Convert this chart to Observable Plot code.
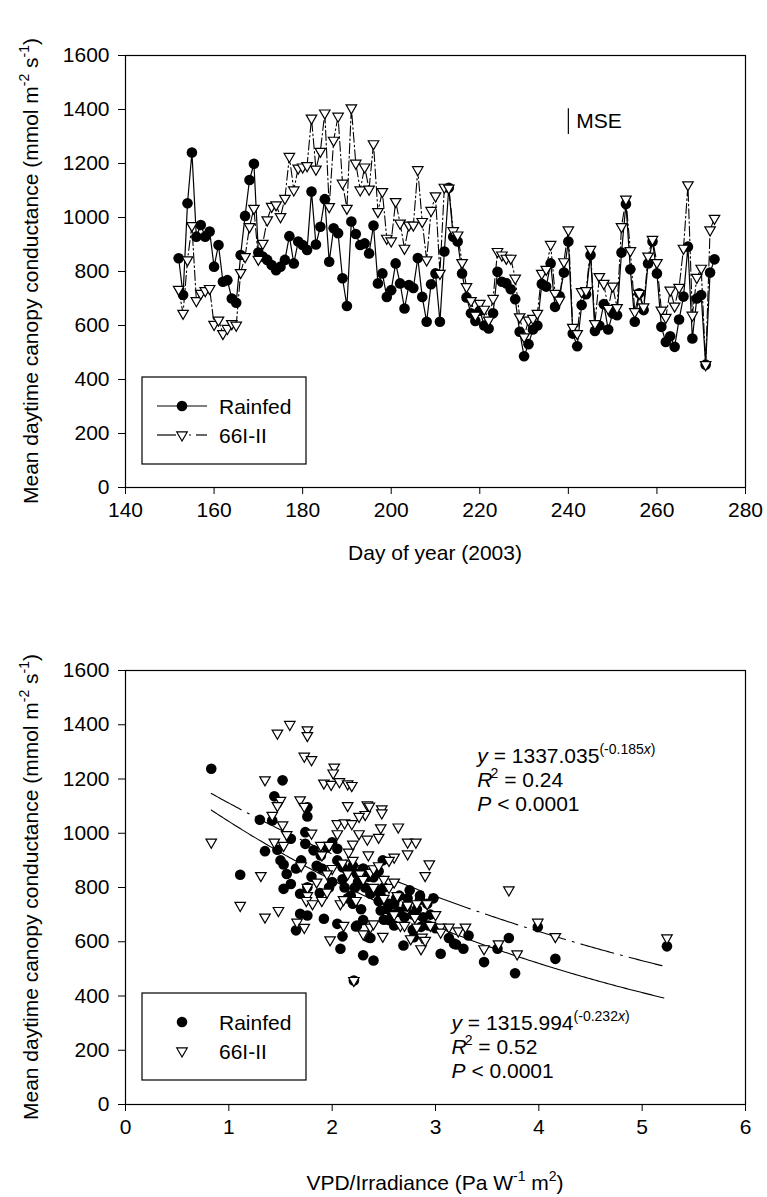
<!DOCTYPE html>
<html><head><meta charset="utf-8">
<script src="https://cdn.jsdelivr.net/npm/d3@7"></script>
<script src="https://cdn.jsdelivr.net/npm/@observablehq/plot@0.6"></script>
<style>
body{margin:0;background:#fff;width:767px;height:1197px;overflow:hidden}
svg{display:block}
</style>
</head><body><div id="topChart"></div><div id="bottomChart"></div>
<script>
const FONT = "'Liberation Sans', Arial, Helvetica, sans-serif";

// ---------- Top panel data (daily means, day of year 152..273) ----------
const firstDay = 152;
const rainfedGc = [
 849,713,1053,1241,929,972,929,948,818,898,
 762,768,700,684,861,1006,1139,1199,870,855,
 843,824,805,818,843,931,830,911,898,880,
 1096,900,966,1068,836,960,942,775,672,985,
 939,898,904,867,970,756,793,706,731,830,
 756,663,750,739,850,706,614,753,793,614,
 874,1110,929,911,793,704,645,617,655,600,
 589,645,799,762,756,734,697,577,486,531,
 585,600,754,744,830,669,709,796,911,570,
 523,676,716,861,580,600,679,585,645,638,
 870,1050,808,614,719,657,830,911,793,595,
 539,560,521,622,707,892,552,700,713,455,
 796,845];
const irrigatedGc = [
 734,645,843,970,692,719,729,737,604,620,
 570,589,607,601,796,855,966,1034,845,904,
 991,1041,1047,1003,1071,1226,1102,1183,1187,1192,
 1368,1179,1245,1387,1040,1286,1375,1127,1034,1406,
 1201,1102,1187,1105,1273,1022,1096,923,913,1059,
 979,886,972,972,1177,985,843,1026,1080,793,
 1112,1109,951,935,833,744,692,638,682,660,
 620,700,874,861,849,849,775,632,558,620,
 626,645,793,808,900,719,694,836,954,593,
 570,725,729,882,607,781,756,663,746,666,
 966,1068,877,651,719,669,857,919,833,657,
 630,731,672,741,886,1121,638,778,812,455,
 954,997];

const dayTicks = [140,160,180,200,220,240,260,280];
const gcTicks = [0,200,400,600,800,1000,1200,1400,1600];
const mseBar = [{day:240, lo:1307, hi:1403, label:"MSE"}];

// ---------- Bottom panel data (VPD/Irradiance vs conductance) ----------
const rainfedX = [0.83,1.52,1.44,1.76,1.76,1.30,1.42,1.60,1.74,1.74,1.35,1.47,1.50,1.53,1.56,1.53,1.60,1.11,1.69,1.76,
 2.00,1.95,1.82,1.89,2.05,2.10,2.24,2.49,2.40,2.37,2.47,2.60,2.73,2.85,1.92,2.05,2.10,2.08,2.24,2.35,
 2.30,2.40,1.69,1.76,1.65,2.69,2.79,3.05,3.18,2.23,2.37,2.50,2.78,2.86,2.93,3.13,3.20,3.27,3.32,3.47,
 3.60,3.71,3.77,2.21,2.47,2.53,3.99,5.24,4.16,
 2.00,2.05,2.10,2.15,2.20,2.12,2.18,2.25,2.30,2.32,2.35,2.42,2.45,2.50,2.55,2.58,2.62,2.65,2.70,2.72,
 2.78,2.82,2.88,2.92,2.95,2.98,1.97,1.90,1.85,1.80,1.70,1.65,2.15,2.20,2.28,2.40,2.60,2.55,2.30,2.65,
 2.75,2.85,3.00,2.45,2.22,1.88];
const rainfedY = [1238,1195,1136,1096,1062,1050,1047,980,1004,961,934,939,900,885,850,795,813,847,777,801,
 967,949,937,918,943,875,850,900,838,777,770,740,760,755,685,666,620,574,660,617,
 550,531,703,697,642,586,617,556,593,656,614,681,644,655,660,614,590,574,623,525,
 574,614,484,457,715,721,654,583,537,
 820,900,830,860,880,800,770,820,870,800,840,790,750,800,740,700,760,710,690,730,
 700,720,690,740,700,760,800,870,880,840,900,870,760,740,720,860,660,680,680,770,
 790,770,650,860,800,780];
const irrigatedX = [1.59,1.47,1.76,1.76,1.73,1.80,2.02,2.01,1.35,1.92,1.99,2.07,2.15,2.19,0.83,1.50,1.47,1.69,1.73,1.42,
 1.52,1.56,1.44,1.53,1.31,1.11,1.35,1.48,2.15,2.34,2.36,2.48,2.48,2.32,2.05,2.12,2.19,2.26,2.26,2.34,
 2.45,2.47,2.64,2.73,2.81,2.73,2.94,2.90,2.60,2.05,1.89,1.97,2.16,1.76,1.76,1.75,1.90,1.95,1.81,1.66,
 1.73,1.98,2.31,2.37,2.49,2.08,2.11,2.23,2.27,2.37,2.40,2.63,2.73,2.82,2.92,2.82,2.87,3.05,2.66,2.11,
 2.30,2.40,2.70,2.76,2.86,2.90,3.05,3.13,3.22,3.29,3.47,3.61,3.79,2.21,3.71,3.99,4.16,5.24,
 2.00,2.10,2.20,2.30,2.40,2.50,2.55,2.60,2.45,2.35,2.20,2.15,2.50,2.60,2.80,2.95,3.00,2.55,1.85,1.95,
 1.70,1.90,1.80];
const irrigatedY = [1401,1369,1381,1360,1284,1271,1244,1222,1197,1185,1180,1190,1182,1176,967,1121,1102,1123,1099,1066,
 1031,995,967,955,844,734,691,715,1102,1105,1100,1090,1075,1069,1035,1038,1035,1062,998,978,
 985,1020,1023,967,967,924,887,844,912,998,955,955,930,800,770,752,752,783,740,672,
 653,607,627,654,620,740,755,752,850,856,869,770,735,740,740,654,617,654,660,660,
 629,666,660,611,574,605,635,654,640,654,574,592,555,457,791,672,619,614,
 870,890,900,830,800,830,800,820,880,920,960,850,760,700,690,660,700,900,820,850,
 880,920,1000];
const vpdTicks = [0,1,2,3,4,5,6];
// fitted exponential models printed on the chart
const fitRainfed = {a:1315.994, b:-0.232, eq:"1315.994", exp:"(-0.232", r2:"0.52", p:"0.0001"};
const fitIrrigated = {a:1337.035, b:-0.185, eq:"1337.035", exp:"(-0.185", r2:"0.24", p:"0.0001"};
const fitRange = [0.83, 5.22];
const eqIrrigatedAt = {x:3.41, y:1285};
const eqRainfedAt = {x:3.16, y:299};

const seriesNames = ["Rainfed", "66I-II"];

// ---------- helpers ----------
const baseStyle = {fontFamily: FONT, fontSize: "21px", color: "black", background: "white", overflow: "visible"};
const rainRows = rainfedGc.map((g, i) => ({day: firstDay + i, gc: g}));
const irrRows = irrigatedGc.map((g, i) => ({day: firstDay + i, gc: g}));
const rainPts = rainfedX.map((x, i) => ({x, y: rainfedY[i]}));
const irrPts = irrigatedX.map((x, i) => ({x, y: irrigatedY[i]}));
function fitCurve(f) {
  const pts = [];
  for (let x = fitRange[0]; x <= fitRange[1] + 1e-9; x += 0.02) pts.push({x, y: f.a * Math.exp(f.b * x)});
  return pts;
}
const CIRCLE_R = 5.3, TRI_R = 3.9;
const fmt = d => String(d);

function txt(sel) {
  return sel.append("text").attr("text-anchor", "start").attr("fill", "black")
    .style("font-family", FONT).style("font-size", "21px");
}
function yTitle(svg, cx, cy) {
  const t = txt(d3.select(svg))
    .attr("transform", `translate(${cx},${cy}) rotate(-90)`).attr("text-anchor", "middle");
  t.append("tspan").text("Mean daytime canopy conductance (mmol m");
  t.append("tspan").attr("dy", -9).style("font-size", "14px").text("-2");
  t.append("tspan").attr("dy", 9).text(" s");
  t.append("tspan").attr("dy", -9).style("font-size", "14px").text("-1");
  t.append("tspan").attr("dy", 9).text(")");
}
function legend(svg, x0, y0, withLines) {
  const g = d3.select(svg).append("g");
  g.append("rect").attr("x", x0).attr("y", y0).attr("width", 164).attr("height", 87)
    .attr("fill", "white").attr("stroke", "black").attr("stroke-width", 1.2);
  const rows = [y0 + 29, y0 + 58];
  const mx = x0 + 40;
  const seg = (a, b, y) => g.append("line").attr("x1", x0 + a).attr("x2", x0 + b).attr("y1", y).attr("y2", y)
    .attr("stroke", "black").attr("stroke-width", 1.2);
  if (withLines) {
    seg(15, 65, rows[0]);
    seg(15, 34, rows[1]); seg(47, 49, rows[1]); seg(54, 65, rows[1]);
  }
  g.append("circle").attr("cx", mx).attr("cy", rows[0]).attr("r", CIRCLE_R).attr("fill", "black");
  g.append("path").attr("d", d3.symbol(d3.symbolTriangle, Math.PI * TRI_R * TRI_R)())
    .attr("transform", `translate(${mx},${rows[1]}) rotate(180)`)
    .attr("fill", "white").attr("stroke", "black").attr("stroke-width", 1.2);
  seriesNames.forEach((s, i) => txt(g).attr("x", x0 + 77).attr("y", rows[i] + 7.5).text(s));
}
function xTitle(svg, cx, y, parts) {
  const t = txt(d3.select(svg)).attr("x", cx).attr("y", y).attr("text-anchor", "middle");
  parts.forEach(p => {
    const s = t.append("tspan").text(p.t);
    if (p.dy) s.attr("dy", p.dy);
    if (p.small) s.style("font-size", "14px");
  });
}
function equation(svg, x, y, f) {
  const sel = d3.select(svg);
  const l1 = txt(sel).attr("x", x).attr("y", y);
  l1.append("tspan").style("font-style", "italic").text("y");
  l1.append("tspan").text(" = " + f.eq);
  l1.append("tspan").attr("dy", -9).style("font-size", "14px").text(f.exp);
  l1.append("tspan").style("font-size", "14px").style("font-style", "italic").text("x");
  l1.append("tspan").style("font-size", "14px").text(")");
  const l2 = txt(sel).attr("x", x).attr("y", y + 24);
  l2.append("tspan").style("font-style", "italic").text("R");
  l2.append("tspan").attr("dy", -9).attr("dx", -2).style("font-size", "14px").text("2");
  l2.append("tspan").attr("dy", 9).text(" = " + f.r2);
  const l3 = txt(sel).attr("x", x).attr("y", y + 48);
  l3.append("tspan").style("font-style", "italic").text("P");
  l3.append("tspan").text(" < " + f.p);
}

// ---------- Top chart ----------
const topPlot = Plot.plot({
  width: 767, height: 590,
  marginLeft: 125, marginRight: 22, marginTop: 55, marginBottom: 103,
  style: baseStyle,
  x: {domain: [140, 280], ticks: dayTicks, tickFormat: fmt, tickSize: 7, tickPadding: 8, label: null},
  y: {domain: [0, 1600], ticks: gcTicks, tickFormat: fmt, tickSize: 7, tickPadding: 9, label: null},
  marks: [
    Plot.frame({stroke: "black", strokeWidth: 1.2}),
    Plot.line(irrRows, {x: "day", y: "gc", stroke: "black", strokeWidth: 1.1, strokeDasharray: "10,3,1.5,3"}),
    Plot.line(rainRows, {x: "day", y: "gc", stroke: "black", strokeWidth: 1.2}),
    Plot.dot(rainRows, {x: "day", y: "gc", r: CIRCLE_R, fill: "black", stroke: null}),
    Plot.dot(irrRows, {x: "day", y: "gc", r: TRI_R, symbol: "triangle", rotate: 180, fill: "white", stroke: "black", strokeWidth: 1.2}),
    Plot.ruleX(mseBar, {x: "day", y1: "lo", y2: "hi", stroke: "black", strokeWidth: 1.2}),
    Plot.text(mseBar, {x: "day", y: d => (d.lo + d.hi) / 2, text: "label", dx: 8, textAnchor: "start", fontSize: 21, fill: "black"})
  ]
});
document.getElementById("topChart").appendChild(topPlot);
yTitle(topPlot, 38, 271);
legend(topPlot, 142, 377, true);
xTitle(topPlot, 435, 560, [{t: "Day of year (2003)"}]);

// ---------- Bottom chart ----------
const botPlot = Plot.plot({
  width: 767, height: 607,
  marginLeft: 125, marginRight: 22, marginTop: 80, marginBottom: 93,
  style: baseStyle,
  x: {domain: [0, 6], ticks: vpdTicks, tickFormat: fmt, tickSize: 7, tickPadding: 8, label: null},
  y: {domain: [0, 1600], ticks: gcTicks, tickFormat: fmt, tickSize: 7, tickPadding: 9, label: null},
  marks: [
    Plot.frame({stroke: "black", strokeWidth: 1.2}),
    Plot.line(fitCurve(fitIrrigated), {x: "x", y: "y", stroke: "black", strokeWidth: 1.1, strokeDasharray: "34,7,2,7"}),
    Plot.line(fitCurve(fitRainfed), {x: "x", y: "y", stroke: "black", strokeWidth: 1.1}),
    Plot.dot(rainPts, {x: "x", y: "y", r: CIRCLE_R, fill: "black", stroke: null}),
    Plot.dot(irrPts, {x: "x", y: "y", r: TRI_R, symbol: "triangle", rotate: 180, fill: "white", stroke: "black", strokeWidth: 1.2})
  ]
});
document.getElementById("bottomChart").appendChild(botPlot);
yTitle(botPlot, 38, 297);
legend(botPlot, 142, 403, false);
xTitle(botPlot, 435, 600, [
  {t: "VPD/Irradiance (Pa W"}, {t: "-1", dy: -9, small: true}, {t: " m", dy: 9},
  {t: "2", dy: -9, small: true}, {t: ")", dy: 9}]);
const sx = botPlot.scale("x"), sy = botPlot.scale("y");
equation(botPlot, sx.apply(eqIrrigatedAt.x), sy.apply(eqIrrigatedAt.y) + 7.5, fitIrrigated);
equation(botPlot, sx.apply(eqRainfedAt.x), sy.apply(eqRainfedAt.y) + 7.5, fitRainfed);
</script>
</body></html>
